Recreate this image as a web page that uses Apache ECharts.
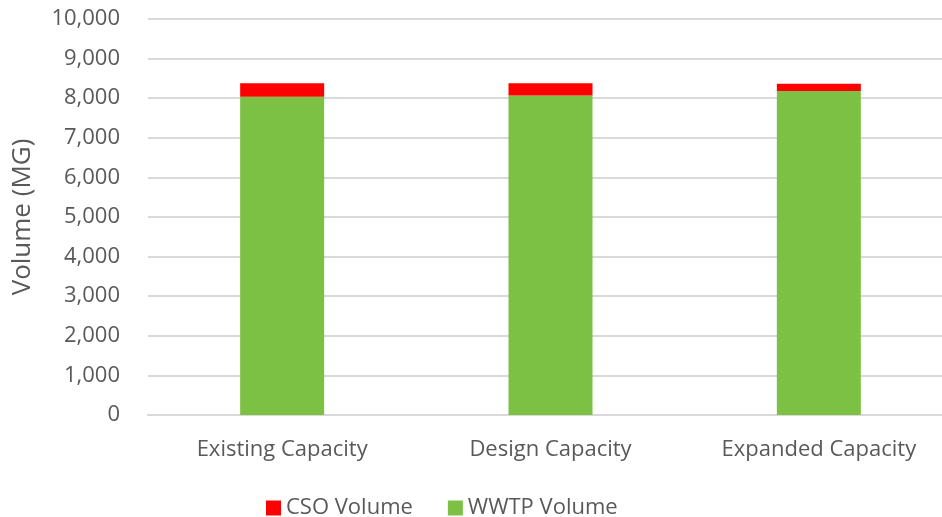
<!DOCTYPE html>
<html>
<head>
<meta charset="utf-8">
<script src="https://cdn.jsdelivr.net/npm/echarts@6/dist/echarts.min.js"></script>
<style>
  html, body { margin: 0; padding: 0; background: #fff; overflow: hidden; }
  /* plot area runs past the right edge of the picture, as in the source */
  #main { width: 953px; height: 517px; }
</style>
</head>
<body>
<div id="main"></div>
<script>
// categories and stacked values (MG)
const categories = ['Existing Capacity', 'Design Capacity', 'Expanded Capacity']
const wwtpVolume = [8035, 8070, 8180]
const csoVolume = [340, 310, 185]
const yTicks = { min: 0, max: 10000, interval: 1000 }

const chart = echarts.init(document.getElementById('main'))
const font = 'Open Sans'

chart.setOption({
  animation: false,
  grid: {
    left: 148,
    right: 0,
    top: 19,
    bottom: 102
  },
  legend: {
    top: 492,
    left: 261,
    itemWidth: 15,
    itemHeight: 15,
    itemGap: 35,
    icon: 'rect',
    textStyle: { color: '#595959', fontSize: 22, fontFamily: font },
    data: ['CSO Volume', 'WWTP Volume']
  },
  xAxis: {
    type: 'category',
    data: categories,
    axisLine: { lineStyle: { color: '#d9d9d9', width: 2 } },
    axisTick: { show: false },
    axisLabel: { color: '#595959', fontSize: 22, fontFamily: font, margin: 24 }
  },
  yAxis: {
    type: 'value',
    min: yTicks.min,
    max: yTicks.max,
    interval: yTicks.interval,
    name: 'Volume (MG)',
    nameLocation: 'middle',
    nameGap: 112,
    nameTextStyle: { color: '#595959', fontSize: 26, fontFamily: font },
    axisLine: { show: false },
    axisTick: { show: false },
    splitLine: { lineStyle: { color: '#d9d9d9', width: 2 } },
    axisLabel: {
      color: '#595959',
      fontSize: 22,
      fontFamily: font,
      margin: 28,
      formatter: v => v.toLocaleString('en-US')
    }
  },
  series: [
    {
      name: 'WWTP Volume',
      type: 'bar',
      stack: 'vol',
      barWidth: 84,
      itemStyle: { color: '#7cc143' },
      data: wwtpVolume
    },
    {
      name: 'CSO Volume',
      type: 'bar',
      stack: 'vol',
      barWidth: 84,
      itemStyle: { color: '#ff0000' },
      data: csoVolume
    }
  ]
})
</script>
</body>
</html>
